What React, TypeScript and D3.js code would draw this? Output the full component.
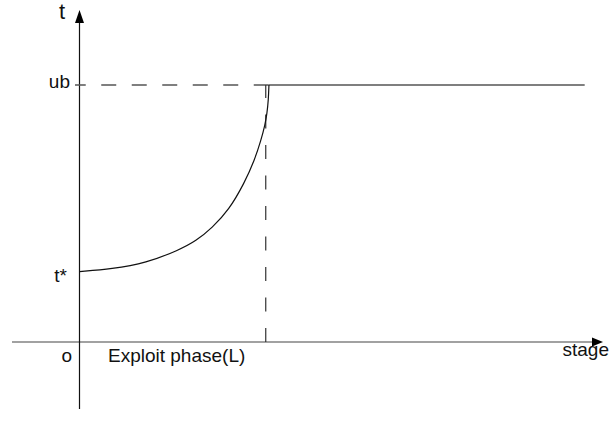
import React from "react";
import * as d3 from "d3";

// ---- data ----
const stageValues = [0, 0.172, 0.353, 0.528, 0.618, 0.703, 0.793, 0.875, 0.929, 0.963, 0.984, 0.995, 1.002, 1.005];
const tValues = [0.274, 0.284, 0.307, 0.358, 0.393, 0.444, 0.514, 0.619, 0.708, 0.786, 0.844, 0.891, 0.942, 1.0];
const ub = 1.0;
const tStar = 0.274;
const L = 0.996;
const stageMax = 2.68;
const axisLabels = { y: "t", x: "stage", origin: "o", ub: "ub", tStar: "t*", phase: "Exploit phase(L)" };

const W = 611;
const H = 440;

export default function App() {
  const x = d3.scaleLinear().domain([0, 1]).range([79.5, 268]);
  const y = d3.scaleLinear().domain([0, 1]).range([342, 85]);

  const pts: [number, number][] = stageValues.map((s, i) => [s, tValues[i]]);
  const line = d3
    .line<[number, number]>()
    .x((d) => x(d[0]))
    .y((d) => y(d[1]))
    .curve(d3.curveBasis);

  const x0 = x(0);
  const y0 = y(0);
  const font = "'Liberation Sans', Arial, sans-serif";

  return (
    <div style={{ position: "fixed", left: 0, top: 0 }}>
      <svg width={W} height={H} style={{ display: "block", background: "#fff" }}>
        {/* x axis */}
        <line x1={12} x2={594} y1={y0} y2={y0} stroke="#444" strokeWidth={1.2} />
        <path d={`M603,${y0} L592,${y0 - 4.5} L592,${y0 + 4.5} Z`} fill="#000" />
        {/* y axis */}
        <line x1={x0} x2={x0} y1={409} y2={20} stroke="#111" strokeWidth={1.2} />
        <path d={`M${x0},10 L${x0 - 4.5},23 L${x0 + 4.5},23 Z`} fill="#000" />

        {/* dashed ub guide */}
        <line
          x1={x(L) + 1.5}
          x2={75}
          y1={y(ub)}
          y2={y(ub)}
          stroke="#555"
          strokeWidth={1.3}
          strokeDasharray="15,15.5"
        />
        {/* solid ub line */}
        <line x1={x(L) + 1.5} x2={x(stageMax)} y1={y(ub)} y2={y(ub)} stroke="#555" strokeWidth={1.4} />
        {/* dashed vertical at L */}
        <line
          x1={x(L) - 1.5}
          x2={x(L) - 1.5}
          y1={y0}
          y2={y(ub)}
          stroke="#333"
          strokeWidth={1.2}
          strokeDasharray="14,16.5"
        />

        {/* curve */}
        <path d={line(pts) || ""} fill="none" stroke="#111" strokeWidth={1.2} />

        {/* labels */}
        <text x={62} y={19} fontFamily={font} fontSize={22} textAnchor="middle" fill="#111">
          {axisLabels.y}
        </text>
        <text x={70} y={88} fontFamily={font} fontSize={19} textAnchor="end" fill="#111">
          {axisLabels.ub}
        </text>
        <text x={67} y={y(tStar) + 10} fontFamily={font} fontSize={19} textAnchor="end" fill="#111">
          {axisLabels.tStar}
        </text>
        <text x={72} y={362} fontFamily={font} fontSize={19} textAnchor="end" fill="#111">
          {axisLabels.origin}
        </text>
        <text x={108} y={362} fontFamily={font} fontSize={19} fill="#111">
          {axisLabels.phase}
        </text>
        <text x={609} y={356} fontFamily={font} fontSize={19} textAnchor="end" fill="#111">
          {axisLabels.x}
        </text>
      </svg>
    </div>
  );
}
